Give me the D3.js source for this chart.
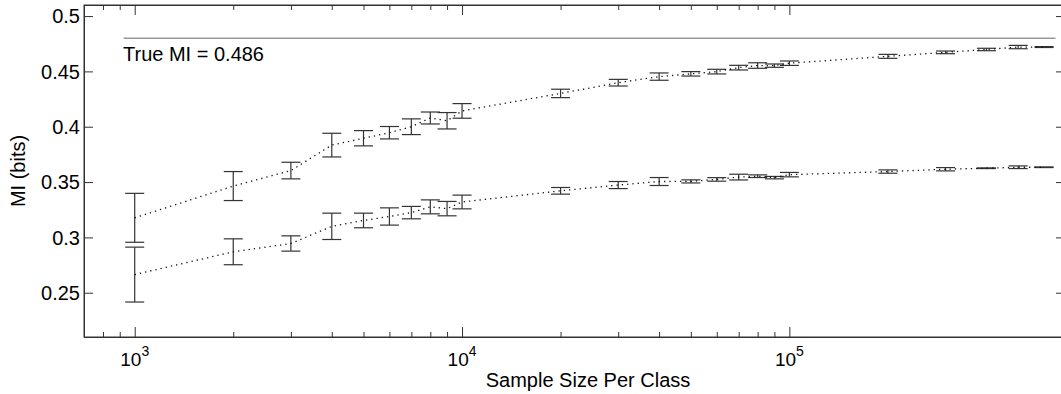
<!DOCTYPE html>
<html>
<head>
<meta charset="utf-8">
<script src="https://cdn.jsdelivr.net/npm/d3@7"></script>
<style>
  body { margin: 0; background: #fff; }
  svg { display: block; font-family: "Liberation Sans", Arial, sans-serif; }
</style>
</head>
<body>
<div id="container"></div>
<script>
// sample sizes per class (log x axis)
const sampleSizes = [
  1000, 2000, 3000, 4000, 5000, 6000, 7000, 8000, 9000,
  10000, 20000, 30000, 40000, 50000, 60000, 70000, 80000, 90000,
  100000, 200000, 300000, 400000, 500000, 600000,
];
// upper curve: mean MI and error half-width
const upperMean = [
  0.3177, 0.3464, 0.3604, 0.3834, 0.3896, 0.3946, 0.4, 0.4079, 0.4054,
  0.4143, 0.4301, 0.4398, 0.4453, 0.4478, 0.4498, 0.4534, 0.4553, 0.4552,
  0.4574, 0.4636, 0.4672, 0.4698, 0.472, 0.472,
];
const upperErr = [
  0.0221, 0.0131, 0.0075, 0.0107, 0.0069, 0.0056, 0.0071, 0.0054, 0.0074,
  0.0066, 0.0038, 0.003, 0.0033, 0.002, 0.0021, 0.0021, 0.0025, 0.0015,
  0.002, 0.0018, 0.0012, 0.0011, 0.0015, 0.0004,
];
// lower curve
const lowerMean = [
  0.2664, 0.287, 0.2945, 0.31, 0.3153, 0.3189, 0.3224, 0.3276, 0.326,
  0.332, 0.3421, 0.3473, 0.3505, 0.3506, 0.3524, 0.3545, 0.3553, 0.354,
  0.3567, 0.3595, 0.3616, 0.3625, 0.3634, 0.3634,
];
const lowerErr = [
  0.0248, 0.0117, 0.0069, 0.0119, 0.0066, 0.0078, 0.0056, 0.0063, 0.0065,
  0.0062, 0.003, 0.0032, 0.0036, 0.0014, 0.0016, 0.0026, 0.0012, 0.0011,
  0.002, 0.0015, 0.0015, 0.0003, 0.0012, 0.0003,
];
const yTicks = [0.25, 0.3, 0.35, 0.4, 0.45, 0.5];
const xDecades = [3, 4, 5];
const trueLineValue = 0.48;
const trueLineRange = [925, 650000];
const trueLabel = "True MI = 0.486";

const W = 1061, H = 394;
const margin = { top: 5, left: 84, right: -5, bottom: 57 };
const width = W - margin.left - margin.right,
  height = H - margin.top - margin.bottom;

const xScale = d3.scaleLog().domain([700, 700000]).range([0, width]);
const yScale = d3.scaleLinear().domain([0.21, 0.51]).range([height, 0]);

const svg = d3
  .select("#container")
  .append("svg")
  .attr("width", W)
  .attr("height", H);
const g = svg
  .append("g")
  .attr("transform", `translate(${margin.left},${margin.top})`);

const axisColor = "#333";

// minor + major ticks for log axis
const majorX = xDecades.map((p) => Math.pow(10, p));
const minorX = [];
[2, 3, 4, 5].forEach((p) => {
  for (let k = 2; k <= 9; k++) {
    const v = k * Math.pow(10, p - 1);
    if (v >= 700 && v <= 700000) minorX.push(v);
  }
});

const xAxisBottom = d3
  .axisBottom(xScale)
  .tickValues(minorX)
  .tickSizeInner(-5)
  .tickSizeOuter(0)
  .tickFormat("");
const xMajorBottom = d3
  .axisBottom(xScale)
  .tickValues(majorX)
  .tickSizeInner(-10)
  .tickSizeOuter(0)
  .tickFormat("");
const xAxisTop = d3
  .axisTop(xScale)
  .tickValues(minorX)
  .tickSizeInner(-5)
  .tickSizeOuter(0)
  .tickFormat("");
const xMajorTop = d3
  .axisTop(xScale)
  .tickValues(majorX)
  .tickSizeInner(-10)
  .tickSizeOuter(0)
  .tickFormat("");

g.append("g").attr("transform", `translate(0,${height})`).call(xAxisBottom);
g.append("g").attr("transform", `translate(0,${height})`).call(xMajorBottom);
g.append("g").call(xAxisTop);
g.append("g").call(xMajorTop);

const yAxisLeft = d3
  .axisLeft(yScale)
  .tickValues(yTicks)
  .tickSizeInner(-9)
  .tickSizeOuter(0)
  .tickFormat(d3.format(""));
const yAxisRight = d3
  .axisRight(yScale)
  .tickValues(yTicks)
  .tickSizeInner(-10)
  .tickSizeOuter(0)
  .tickFormat("");

const yl = g.append("g").call(yAxisLeft);
g.append("g").attr("transform", `translate(${width},0)`).call(yAxisRight);

g.selectAll(".domain, .tick line").attr("stroke", axisColor);
yl.selectAll("text")
  .attr("x", -4)
  .style("font-size", "20px")
  .attr("fill", "#000")
  .attr("dy", "0.34em");

// x tick labels with superscripts
const xl = g
  .selectAll(".xlab")
  .data(xDecades)
  .enter()
  .append("text")
  .attr("class", "xlab")
  .attr("x", (d) => xScale(Math.pow(10, d)))
  .attr("y", height + 29)
  .attr("text-anchor", "middle")
  .style("font-size", "19px");
xl.append("tspan").text("10");
xl.append("tspan")
  .attr("dy", -10)
  .style("font-size", "14px")
  .text((d) => d);

// box
g.append("rect")
  .attr("x", 0)
  .attr("y", 0)
  .attr("width", width)
  .attr("height", height)
  .attr("fill", "none")
  .attr("stroke", axisColor);

// true MI line
g.append("line")
  .attr("x1", xScale(trueLineRange[0]))
  .attr("x2", xScale(trueLineRange[1]))
  .attr("y1", yScale(trueLineValue))
  .attr("y2", yScale(trueLineValue))
  .attr("stroke", "#999")
  .attr("stroke-width", 1.5);
g.append("text")
  .attr("x", 39)
  .attr("y", 56)
  .style("font-size", "20px")
  .text(trueLabel);

const series = [
  { mean: upperMean, err: upperErr },
  { mean: lowerMean, err: lowerErr },
];
const capHalf = 9.5;
const line = d3
  .line()
  .x((d) => xScale(d.x))
  .y((d) => yScale(d.m));

series.forEach((s) => {
  const pts = sampleSizes.map((x, i) => ({ x: x, m: s.mean[i], e: s.err[i] }));
  const eb = g.append("g").attr("stroke", "#333").attr("stroke-width", 1.2);
  eb.selectAll(".v")
    .data(pts)
    .enter()
    .append("line")
    .attr("x1", (d) => xScale(d.x))
    .attr("x2", (d) => xScale(d.x))
    .attr("y1", (d) => yScale(d.m - d.e))
    .attr("y2", (d) => yScale(d.m + d.e));
  [1, -1].forEach((sgn) => {
    eb.selectAll(".c" + sgn)
      .data(pts)
      .enter()
      .append("line")
      .attr("x1", (d) => xScale(d.x) - capHalf)
      .attr("x2", (d) => xScale(d.x) + capHalf)
      .attr("y1", (d) => yScale(d.m + sgn * d.e))
      .attr("y2", (d) => yScale(d.m + sgn * d.e));
  });
  g.append("path")
    .datum(pts)
    .attr("d", line)
    .attr("fill", "none")
    .attr("stroke", "#111")
    .attr("stroke-width", 1.3)
    .attr("stroke-dasharray", "1.3,4");
});

// axis titles
svg
  .append("text")
  .attr("x", 588)
  .attr("y", 387)
  .attr("text-anchor", "middle")
  .style("font-size", "20px")
  .text("Sample Size Per Class");
svg
  .append("text")
  .attr("transform", "translate(25,171) rotate(-90)")
  .attr("text-anchor", "middle")
  .style("font-size", "20px")
  .text("MI (bits)");
</script>
</body>
</html>
